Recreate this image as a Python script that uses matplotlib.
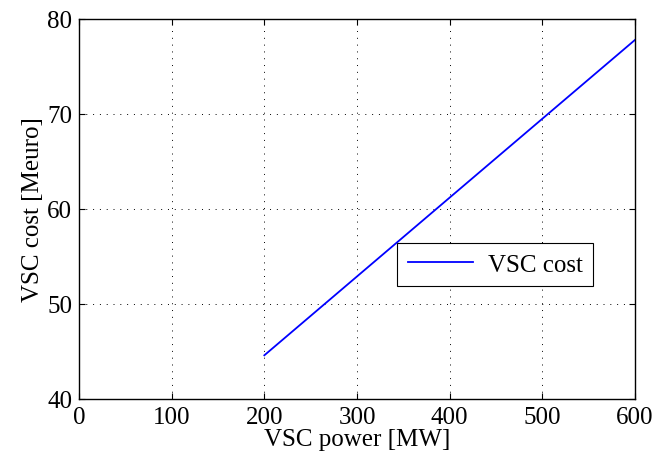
import matplotlib
matplotlib.use("Agg")
import matplotlib.pyplot as plt

power_mw = [200, 600]
cost_meuro = [44.6, 77.8]

x_ticks = [0, 100, 200, 300, 400, 500, 600]
y_ticks = [40, 50, 60, 70, 80]

plt.rcParams["font.family"] = ["Liberation Serif", "DejaVu Serif"]
plt.rcParams["font.size"] = 18

fig = plt.figure(figsize=(6.55, 4.64), dpi=100)
ax = fig.add_axes([79 / 655, 1 - 400 / 464, 556 / 655, 380 / 464])

ax.plot(power_mw, cost_meuro, color="blue", linewidth=1.3, label="VSC cost")

ax.set_xlim(0, 600)
ax.set_ylim(40, 80)
ax.set_xticks(x_ticks)
ax.set_yticks(y_ticks)
ax.tick_params(direction="in", top=True, right=True, length=4, width=0.8, pad=5)
ax.grid(True, color="black", linestyle=(0, (1, 6)), linewidth=0.7)
for s in ax.spines.values():
    s.set_linewidth(1.0)

ax.set_xlabel("VSC power [MW]", labelpad=0)
ax.set_ylabel("VSC cost [Meuro]", labelpad=2)

leg = ax.legend(loc="upper left", bbox_to_anchor=(318 / 556, 1 - 224 / 380),
                fancybox=False, framealpha=1, edgecolor="black",
                borderpad=0.42, borderaxespad=0, handlelength=2.6,
                handletextpad=0.6, fontsize=18)
leg.get_frame().set_linewidth(0.8)

fig.savefig("out.png", dpi=100)
